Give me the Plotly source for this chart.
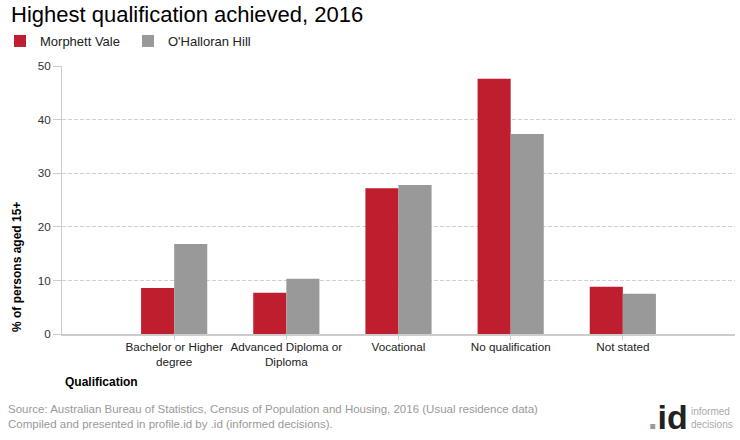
import plotly.graph_objects as go

categories = ["Bachelor or Higher<br>degree", "Advanced Diploma or<br>Diploma", "Vocational", "No qualification", "Not stated"]
morphett_vale = [8.6, 7.7, 27.2, 47.6, 8.8]
ohalloran_hill = [16.8, 10.3, 27.8, 37.3, 7.5]
series_names = ["Morphett Vale", "O'Halloran Hill"]
y_ticks = [0, 10, 20, 30, 40, 50]

W, H = 740, 440
ML, MR, MT, MB = 62, 5, 66, 106
PW, PH = W - ML - MR, H - MT - MB

def px(x):
    return (x - ML) / PW

def py(y):
    return (H - MB - y) / PH

FONT = "Arial, Liberation Sans, sans-serif"

fig = go.Figure()
fig.add_trace(go.Bar(x=categories, y=morphett_vale, name=series_names[0],
                     marker=dict(color="#BE1E2D", line=dict(width=0))))
fig.add_trace(go.Bar(x=categories, y=ohalloran_hill, name=series_names[1],
                     marker=dict(color="#999999", line=dict(width=0))))

fig.update_layout(
    width=W, height=H,
    margin=dict(l=ML, r=MR, t=MT, b=MB, autoexpand=False),
    plot_bgcolor="white", paper_bgcolor="white",
    barmode="group", bargap=0.41, bargroupgap=0,
    font=dict(family=FONT, size=11.7, color="#333333"),
    title=dict(text="Highest qualification achieved, 2016", x=11 / W, xanchor="left",
               xref="container", yref="container", y=1 - 14 / H, yanchor="middle",
               pad=dict(l=0, r=0, t=0, b=0),
               font=dict(family=FONT, size=22, color="#000000")),
    legend=dict(orientation="h", xref="container", yref="container",
                x=0.0, xanchor="left", y=1 - 41 / H, yanchor="middle",
                font=dict(family=FONT, size=13, color="#222222"),
                itemwidth=30, entrywidth=83, tracegroupgap=0, bgcolor="rgba(0,0,0,0)"),
    showlegend=True,
    hovermode=False,
)

fig.update_xaxes(
    type="category", range=[-1, 5],
    showline=True, linecolor="#cccccc", linewidth=2,
    ticks="outside", ticklen=4, tickcolor="#cccccc",
    ticklabelstandoff=-3,
    showgrid=False, tickfont=dict(family=FONT, size=11.7, color="#222222"),
    zeroline=False,
)
fig.update_yaxes(
    range=[0, 50], tickvals=y_ticks,
    showline=True, linecolor="#cccccc", linewidth=1,
    ticks="outside", ticklen=8, tickcolor="#cccccc",
    showgrid=True, gridcolor="#d0d0d0", griddash="4px,2px", gridwidth=1,
    zeroline=False,
    tickfont=dict(family=FONT, size=11.7, color="#333333"),
)

annotations = [
    dict(text="<b>% of persons aged 15+</b>", textangle=-90, x=px(17), y=0,
         xanchor="center", yanchor="bottom", showarrow=False,
         font=dict(family=FONT, size=12, color="#000000")),
    dict(text="<b>Qualification</b>", x=px(63), y=py(382), xanchor="left", yanchor="middle",
         showarrow=False, font=dict(family=FONT, size=12, color="#000000")),
    dict(text="Source: Australian Bureau of Statistics, Census of Population and Housing, 2016 (Usual residence data)<br>Compiled and presented in profile.id by .id (informed decisions).",
         x=px(6), y=py(416), xanchor="left", yanchor="middle", align="left", showarrow=False,
         font=dict(family=FONT, size=11.5, color="#999999")),
    dict(text="<b><span style='color:#999999'>.</span>id</b>", x=px(690), y=py(417),
         xanchor="right", yanchor="middle",
         showarrow=False, font=dict(family=FONT, size=34, color="#222222")),
    dict(text="informed<br>decisions", x=px(689), y=py(418), xanchor="left", yanchor="middle",
         align="left", showarrow=False,
         font=dict(family=FONT, size=10, color="#aaaaaa")),
]
for a in annotations:
    a["xref"] = "paper"
    a["yref"] = "paper"
fig.update_layout(annotations=annotations)

fig.write_html("out.html", config={"displayModeBar": False, "staticPlot": True},
               post_script="document.body.style.margin='0';document.body.style.overflow='hidden';")
